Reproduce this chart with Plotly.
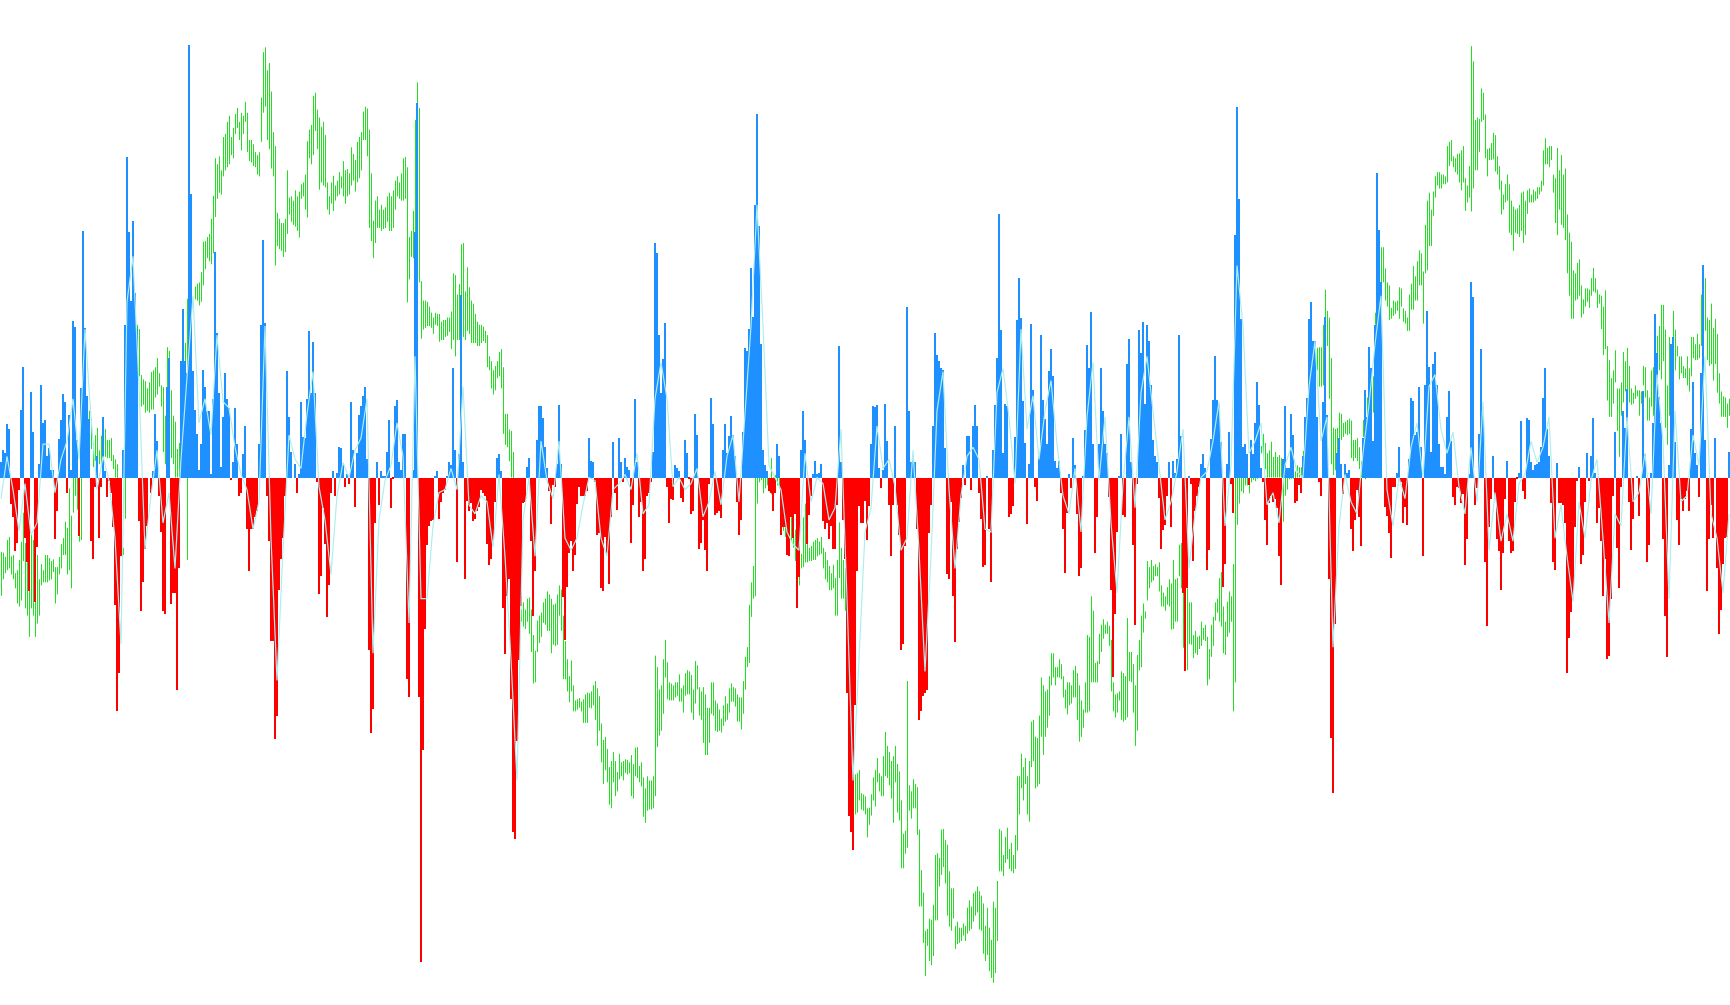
import plotly.graph_objects as go

BAR_A = [25,45,40,88,80,-43,-65,-122,-108,-20,112,182,-100,-140,-188,141,75,-205,-115,22,153,90,95,35,48,12,12,-102,-55,63,95,138,125,-26,103,12,258,248,62,-97,147,407,247,135,97,-105,-135,-15,35,-100,-15,100,10,-32,-5,-25,-82,-210,-385,-322,-130,45,252,529,405,292,423,305,245,-72,-220,-172,-118,-80,0,-25,10,105,60,-30,-90,-220,-226,150,197,-208,-190,-190,-350,-150,193,278,192,172,714,468,175,112,72,12,55,177,150,110,110,5,130,372,238,140,18,100,172,130,115,-4,25,115,55,-30,-26,38,85,-85,-155,-85,-85,-65,-55,55,252,392,255,-30,-105,-270,-270,-432,-393,-185,-135,-100,-30,175,100]
BAR_B = [42,0,22,-25,5,125,67,65,130,242,140,224,140,-8,-192,-162,-50,-110,-230,-178,-25,10,-30,8,50,48,20,-15,5,-10,125,45,-48,40,103,118,135,150,30,-285,-422,-382,-75,25,-45,10,2,2,42,95,-50,-3,118,128,25,12,72,72,-333,-362,0,12,405,618,-362,-800,-450,-250,-112,-80,-72,-70,3,10,-68,-40,-25,-20,3,25,20,180,45,-140,38,302,25,-167,-38,-55,-42,-72,-68,-55,-48,-20,-25,-30,-110,-145,-135,-105,-40,32,38,10,-215,-292,-195,-168,-365,-585,-597,-435,-302,-212,-42,-40,18,32,-105,-228,-155,62,118,118,98,50,15,-22,-76,-12,-15,22,120,22,-198,-268,-180,-125,-105,-155,-128,-43,-15]
BAR_C = [-30,-30,-30,-22,65,28,25,-8,-95,-92,-182,-187,-98,-125,-175,-65,58,-25,-53,65,25,-8,32,18,12,-108,-45,130,25,-65,-40,-155,-135,-30,-25,-8,42,387,370,235,140,195,255,-15,-75,-35,-37,20,15,10,-33,-40,62,40,-2,-60,-55,105,70,-118,-108,-70,-120,-155,-10,132,88,-62,-58,-55,-67,45,88,40,68,102,70,35,-40,-95,-70,75,214,208,245,345,265,450,600,415,220,45,20,10,-22,-25,-55,-25,55,35,-95,-82,-82,-128,-130,-65,-100,-60,-215,-165,45,110,62,-110,-62,-30,6,28,6,8,23,-72,-85,-75,-102,-80,-118,-118,-45,217,25,-70,-135,-355,-558,-585,-615,-375,-155,-47,-75,-75,-38,-103,-47]
BAR_D = [55,118,117,120,15,-18,12,122,60,-45,-130,-45,85,-45,-95,-285,-275,-113,282,110,25,30,25,-85,-400,-385,-360,-355,-350,-92,-45,85,238,203,192,180,178,48,-160,-167,-40,-195,-272,-118,-73,-33,20,-12,68,68,-20,85,120,85,-25,-68,-147,-145,3,-85,-172,45,120,197,435,243,40,122,118,-65,-60,-47,67,260,330,263,127,57,-76,22,253,145,-15,-38,40,235,128,96,55,175,212,168,28,15,27,-25,-85,-157,-58,5,-17,65,20,-60,-162,-150,2,78,218,180,273,55,-125,-65,55,180,110,55,40,-32,-185,-330,-225,-90,3,72,-62,-65,188,228,25,-112,-243,-10,243,205,257,122,252,225,153,62,35,25,-33]
BAR_E = [-118,-87,-78,-30,25,-82,27,7,30,235,68,-190,-320,-182,3,-10,-137,-55,-30,-15,22,38,15,-153,-120,63,128,200,128,120,58,-180,-142,22,75,-10,-58,400,612,460,262,50,55,38,-12,62,38,90,158,120,15,-8,-70,-112,-42,-30,-40,-35,-50,-130,-178,30,118,15,15,105,70,-42,-38,-12,-25,35,100,132,262,290,225,225,100,-8,-30,125,265,103,-168,-430,-520,-242,40,65,22,-28,22,8,12,-85,-122,-70,-20,-65,-113,65,145,100,215,180,60,252,502,408,322,0,-48,-63,-92,-133,-15,-15,8,50,-8,-75,-48,-78,30,132,127,70,75,150,50,-130,152,275,182,42,187,207,152,55,18,18,5,100,143]
BAR_F = [60,-32,-45,-15,-18,-42,-28,-145,-102,5,323,298,-46,-18,72,212,108,-140,-245,-82,-35,35,-32,-102,-122,-186,-125,-35,27,-105,-125,-122,-40,-3,8,93,-22,-35,98,95,25,12,20,22,25,50,132,180,80,35,-42,-140,-153,24,-42,-42,-45,-75,-322,-265,-222,-195,-82,-5,17,-142,-128,-40,40,-5,35,98,8,-75,-50,-105,-195,-135,-300,-295,-200,-30,75,-117,-183,-15,110,82,146,-40,-120,-68,0,2,-63,0,142,38,-140,-112,8,90,270,205,133,90,-102,-228,-297,20,220,232,58,-70,-112,-35,-55,-35,-22,-55,80,158,40,20,-32,172,350,62,-188,-102,-45,-100,65,-150,-258,-218,-143,-100,-98,42]

GREEN_A = [(845,917),(846,890),(853,880),(825,875),(820,872),(852,882),(850,890),(880,905),(875,930),(858,935),(828,925),(780,860),(830,938),(820,950),(845,985),(817,938),(825,950),(850,985),(850,963),(890,950),(865,900),(875,895),(850,895),(850,895),(855,892),(860,890),(857,878),(870,930),(870,915),(853,882),(832,872),(822,850),(795,850),(805,882),(740,875),(785,905),(722,780),(722,752),(722,775),(722,828),(722,825),(600,700),(640,720),(660,720),(612,660),(625,675),(665,705),(652,695),(640,690),(677,700),(653,705),(622,672),(642,688),(660,690),(660,690),(657,695),(685,708),(692,722),(700,760),(760,830),(790,850),(838,850),(700,790),(560,700),(520,640),(510,600),(500,590),(480,570),(470,540),(477,555),(553,605),(560,602),(563,615),(575,612),(565,615),(548,610),(545,610),(540,590),(525,585),(550,572),(570,605),(573,680),(620,700),(507,600),(513,705),(578,690),(620,700),(630,722),(675,722),(665,722),(600,722),(550,700),(500,680),(427,858),(440,700),(440,620),(432,442),(407,428),(402,430),(400,438),(383,432),(333,405),(332,378),(325,360),(320,365),(295,370),(257,352),(195,292),(205,262),(192,252),(215,255),(160,225),(155,215),(135,210),(125,205),(160,190),(145,195),(122,155),(112,145),(135,165),(120,182),(125,155),(102,135),(120,185),(165,200),(165,202),(172,208),(185,210),(190,222),(185,225),(95,168),(20,120),(12,110),(50,165),(38,180),(85,212),(152,225),(175,372),(285,340),(295,345),(302,348),(302,358),(295,350),(215,320),(260,288)]
GREEN_B = [(258,300),(265,305),(248,308),(258,315),(250,326),(238,262),(235,258),(222,280),(167,293),(148,195),(140,205),(92,190),(87,150),(115,180),(128,247),(143,235),(135,240),(157,243),(235,280),(258,288),(235,270),(224,282),(240,265),(232,258),(218,255),(225,245),(200,258),(215,270),(213,258),(220,255),(177,240),(188,232),(198,250),(168,235),(160,228),(152,215),(118,165),(110,165),(113,192),(148,310),(220,332),(298,360),(265,335),(258,310),(280,310),(272,315),(280,312),(276,310),(258,300),(252,315),(258,315),(248,310),(232,280),(225,258),(235,262),(220,265),(195,265),(193,262),(210,433),(325,395),(315,358),(282,360),(132,370),(70,290),(112,400),(398,493),(430,478),(430,475),(432,472),(440,472),(450,475),(458,485),(450,470),(452,472),(452,498),(465,495),(462,495),(462,490),(458,488),(458,482),(448,510),(385,495),(388,522),(420,495),(403,495),(337,497),(335,490),(415,495),(375,480),(408,485),(430,500),(435,500),(452,500),(465,505),(470,505),(470,500),(473,497),(480,500),(487,540),(522,545),(530,575),(545,585),(538,578),(530,558),(515,555),(510,575),(540,650),(617,668),(617,672),(643,695),(645,722),(680,800),(760,870),(820,900),(880,950),(940,960),(928,968),(940,972),(922,960),(920,980),(940,1010),(982,1062),(1008,1060),(958,1010),(950,995),(945,985),(928,962),(922,965),(910,975),(915,975),(922,1012),(932,998),(930,1000),(915,998),(900,950),(907,975),(950,1055),(992,1055),(1022,1075),(1050,1093),(1024,1075),(1065,1108),(1090,1108),(1088,1105),(1086,1102)]
GREEN_C = [(1092,1108),(1088,1127),(1080,1127),(1077,1127),(1078,1102),(1075,1103),(1065,1098),(1058,1122),(1070,1165),(1083,1140),(1128,1192),(1155,1228),(1150,1205),(1170,1225),(1200,1262),(1190,1268),(1175,1225),(1190,1248),(1208,1240),(1178,1220),(1192,1215),(1190,1222),(1187,1210),(1188,1212),(1192,1210),(1180,1248),(1195,1252),(1168,1215),(1167,1218),(1198,1225),(1192,1232),(1217,1282),(1235,1292),(1215,1272),(1222,1270),(1222,1270),(1215,1268),(1016,1248),(1035,1167),(1072,1148),(1065,1140),(1022,1112),(990,1052),(1027,1088),(1060,1090),(1062,1090),(1065,1090),(1060,1085),(1060,1082),(1047,1092),(1070,1092),(1065,1110),(1045,1082),(1040,1080),(1042,1080),(1048,1110),(1072,1122),(1025,1095),(1032,1072),(1068,1115),(1075,1122),(1068,1160),(1080,1180),(1102,1180),(1102,1160),(1060,1112),(1060,1115),(1090,1140),(1095,1142),(1105,1140),(1120,1143),(1098,1132),(1083,1125),(1095,1122),(1070,1110),(1062,1092),(1068,1092),(1070,1100),(1080,1125),(1085,1125),(1085,1138),(1058,1112),(1018,1072),(1002,1035),(932,1028),(895,952),(868,922),(722,918),(722,765),(722,730),(722,726),(722,748),(722,740),(712,735),(722,745),(690,750),(722,770),(718,745),(700,735),(722,740),(745,800),(775,810),(795,820),(800,830),(830,835),(778,828),(775,838),(808,860),(820,868),(870,900),(848,872),(788,870),(765,862),(830,862),(838,860),(835,860),(828,858),(825,858),(822,852),(828,850),(820,848),(838,872),(845,890),(858,895),(868,908),(880,908),(866,905),(888,950),(858,950),(796,888),(838,922),(858,922),(872,942),(940,1060),(1040,1130),(1100,1190),(1190,1260),(1212,1278),(1210,1275),(1205,1255),(1243,1270),(1245,1272),(1248,1278),(1268,1316),(1267,1295)]
GREEN_D = [(1245,1280),(1217,1255),(1205,1265),(1185,1225),(1210,1240),(1215,1248),(1182,1248),(1142,1215),(1165,1218),(1175,1230),(1190,1252),(1182,1292),(1165,1225),(1195,1275),(1207,1288),(1255,1367),(1310,1367),(1305,1343),(1058,1333),(1230,1272),(1240,1285),(1220,1268),(1228,1268),(1233,1312),(1303,1430),(1370,1430),(1407,1490),(1470,1545),(1467,1495),(1450,1520),(1452,1527),(1427,1512),(1345,1453),(1342,1453),(1350,1397),(1303,1378),(1302,1365),(1320,1392),(1328,1445),(1372,1463),(1400,1470),(1400,1450),(1462,1500),(1455,1492),(1465,1490),(1465,1487),(1458,1478),(1462,1487),(1432,1475),(1420,1470),(1430,1467),(1408,1455),(1405,1445),(1397,1440),(1405,1468),(1412,1470),(1425,1508),(1462,1520),(1432,1510),(1465,1537),(1485,1548),(1422,1556),(1432,1540),(1388,1487),(1302,1372),(1305,1372),(1345,1380),(1315,1358),(1300,1352),(1335,1368),(1325,1372),(1345,1375),(1312,1368),(1215,1338),(1215,1278),(1178,1235),(1200,1255),(1185,1228),(1215,1278),(1190,1290),(1125,1200),(1122,1190),(1150,1235),(1152,1232),(1115,1228),(1052,1150),(1065,1180),(1075,1150),(1072,1135),(1050,1115),(1012,1065),(1012,1052),(1035,1065),(1035,1052),(1022,1052),(1030,1055),(1050,1085),(1072,1103),(1060,1113),(1060,1098),(1065,1095),(1040,1085),(1033,1085),(1045,1122),(1065,1158),(1090,1150),(1105,1135),(1060,1110),(982,1110),(985,1108),(918,1060),(942,1060),(1028,1060),(1025,1060),(980,1030),(965,1010),(956,988),(965,980),(960,980),(967,1000),(990,1075),(1060,1108),(1080,1118),(1078,1110),(1075,1090),(1042,1122),(1045,1125),(1050,1122),(954,1118),(1010,1058),(1010,1060),(1030,1110),(1065,1165),(1015,1140),(990,1040),(950,1035),(930,978),(943,955),(860,925),(870,905),(858,895),(868,892),(865,885),(870,885),(862,910)]
GREEN_E = [(900,935),(912,935),(918,942),(903,932),(890,935),(897,973),(858,972),(890,960),(888,960),(833,885),(830,905),(905,1003),(855,1040),(905,1040),(928,997),(928,998),(982,1020),(975,1012),(985,1015),(983,1005),(960,1000),(970,990),(965,992),(985,1065),(1005,1055),(965,1018),(952,1000),(928,958),(922,945),(888,960),(878,968),(935,1012),(960,1015),(927,985),(910,978),(918,960),(865,1108),(722,1060),(722,800),(722,765),(722,745),(722,748),(722,735),(722,735),(722,748),(722,730),(722,726),(722,728),(722,724),(715,722),(670,682),(650,692),(665,708),(682,722),(677,722),(663,722),(688,722),(680,722),(688,722),(685,722),(690,722),(722,795),(722,752),(722,742),(722,725),(722,724),(722,724),(712,725),(702,722),(705,722),(705,722),(678,722),(660,700),(640,690),(600,660),(570,620),(540,600),(520,580),(508,545),(507,572),(507,572),(470,570),(412,590),(447,505),(458,592),(525,700),(640,718),(642,710),(640,690),(615,660),(617,660),(632,655),(630,650),(627,652),(625,650),(628,690),(660,695),(660,690),(657,695),(672,708),(695,722),(627,655),(612,725),(590,640),(565,600),(545,590),(555,615),(450,470),(400,460),(348,410),(342,405),(342,400),(377,430),(400,440),(405,462),(442,460),(430,455),(432,452),(430,447),(408,460),(410,440),(443,465),(447,468),(458,480),(420,480),(402,445),(373,445),(390,430),(365,430),(347,405),(352,405),(382,468),(305,385),(265,380),(252,340),(280,340),(250,290),(225,260),(218,240),(218,245),(222,245),(222,238),(225,238),(175,235),(168,208)]
GREEN_F = [(165,200),(192,210),(195,218),(188,222),(187,235),(182,248),(175,235),(228,282),(240,268),(208,260),(10,283),(35,245),(132,215),(128,215),(130,185),(80,135),(87,132),(123,195),(180,225),(178,198),(170,198),(153,197),(157,217),(192,222),(208,247),(232,288),(255,280),(238,268),(222,265),(238,318),(265,322),(275,348),(280,318),(278,320),(272,325),(252,315),(250,335),(265,322),(248,287),(245,268),(255,268),(247,268),(250,265),(243,262),(243,255),(232,250),(182,240),(162,205),(178,205),(175,210),(175,198),(222,252),(228,302),(178,322),(215,280),(190,305),(222,310),(212,330),(288,385),(318,422),(333,460),(380,460),(385,430),(368,428),(362,422),(405,458),(428,452),(410,440),(410,432),(412,442),(393,422),(376,415),(393,417),(412,442),(420,435),(422,477),(440,520),(413,510),(505,595),(528,622),(558,622),(545,600),(512,565),(575,645),(575,688),(565,620),(515,598),(530,580),(508,580),(538,598),(575,602),(582,600),(570,592),(578,588),(578,620),(580,600),(538,570),(540,590),(578,628),(590,628),(545,605),(540,620),(520,590),(488,570),(472,545),(437,560),(437,530),(478,640),(570,668),(490,620),(515,600),(447,520),(478,545),(505,522),(522,560),(522,550),(538,558),(542,558),(522,570),(542,580),(490,555),(490,525),(502,528),(485,528),(502,525),(420,505),(380,440),(393,480),(458,528),(462,538),(435,535),(475,562),(460,535),(485,582),(550,600),(580,622),(588,622),(590,622),(600,640),(592,620)]

CYAN_A = [-35,35,-20,-88,-10,-95,-75,55,55,-25,30,60,130,30,245,100,-20,35,-5,-100,-275,290,365,150,-118,-30,45,-75,-25,-150,30,165,300,90,130,70,235,125,115,50,5,-20,-85,-40,250,-100,-335,-120,70]
CYAN_B = [30,15,105,175,-15,-70,-160,-30,25,0,45,65,130,-290,-70,-5,20,90,35,-240,200,-200,-200,-80,-25,-20,15,-20,150,-45,-60,-30,-40,-115,5,-130,-300,-500,-70,0,-130,60,-5,-35,60,-100,-120,-100]
CYAN_C = [-45,0,-5,-100,-130,-20,-10,5,-20,40,-60,-45,130,190,130,-15,0,-20,-10,15,-65,-40,10,-45,35,70,-40,110,250,450,250,20,0,-20,-90,-110,-120,40,-40,0,-10,-70,-50,80,-200,-500,-300,-90]
CYAN_D = [-50,85,15,30,-15,-120,-100,45,-120,-320,-130,110,175,-20,-150,-30,35,50,30,-85,-90,140,180,100,-10,245,80,135,30,110,160,55,-30,-60,15,-90,100,190,-5,100,-75,-190,-10,100,-50,140,200,110,10]
CYAN_E = [-70,-40,10,80,-150,-60,0,10,60,125,-80,20,350,250,40,60,90,-45,-25,-75,20,50,10,0,150,225,60,100,-280,-80,5,-40,-60,40,120,220,300,-20,-80,0,-35,50,90,0,150,170,80,40]
CYAN_F = [75,-15,-60,50,-40,125,-120,-25,-105,-60,-105,-10,5,60,25,50,100,-100,-45,-130,-205,-40,-100,-5,30,-100,-240,-60,-80,100,-40,-25,40,-60,170,60,-200,110,-40,-30,70,20,200,-60,-100,-190,-60]

ZERO_LEVEL = 722
BLUE = "#1E90FF"
RED = "#FF0000"
GREEN = "#20E020"
CYAN = "#AFEEEE"

bars = BAR_A + BAR_B + BAR_C + BAR_D + BAR_E + BAR_F
green = GREEN_A + GREEN_B + GREEN_C + GREEN_D + GREEN_E + GREEN_F
cyan = CYAN_A + CYAN_B + CYAN_C + CYAN_D + CYAN_E + CYAN_F

n = len(bars)
xs = list(range(n))
gx, gy = [], []
for i, (t, b) in enumerate(green):
    gx += [i + 0.25, i + 0.25, None]
    gy += [ZERO_LEVEL - t, ZERO_LEVEL - b, None]

fig = go.Figure()
fig.add_trace(go.Scatter(
    x=gx, y=gy, mode="lines", line=dict(color=GREEN, width=1), hoverinfo="skip",
    xaxis="x", yaxis="y"))
fig.add_trace(go.Bar(
    x=xs, y=bars, width=1,
    marker=dict(color=[BLUE if v >= 0 else RED for v in bars], line=dict(width=0)),
    hoverinfo="skip", xaxis="x2", yaxis="y2"))
fig.add_trace(go.Scatter(
    x=[i * 3 for i in range(len(cyan))], y=cyan, mode="lines",
    line=dict(color=CYAN, width=1.2), hoverinfo="skip", xaxis="x2", yaxis="y2"))
XR = [-0.5, 864.5]
YR = [-870.6, 788.1]
fig.update_layout(
    width=1730, height=1005, margin=dict(l=0, r=0, t=0, b=0),
    paper_bgcolor="white", plot_bgcolor="white", showlegend=False,
    barmode="overlay", bargap=0,
    xaxis=dict(range=XR, visible=False, fixedrange=True),
    yaxis=dict(range=YR, visible=False, fixedrange=True),
    xaxis2=dict(range=XR, visible=False, fixedrange=True, overlaying="x"),
    yaxis2=dict(range=YR, visible=False, fixedrange=True, overlaying="y"),
)
fig.write_html("out.html", config={"displayModeBar": False},
               post_script="document.body.style.margin='0';document.body.style.overflow='hidden';")
